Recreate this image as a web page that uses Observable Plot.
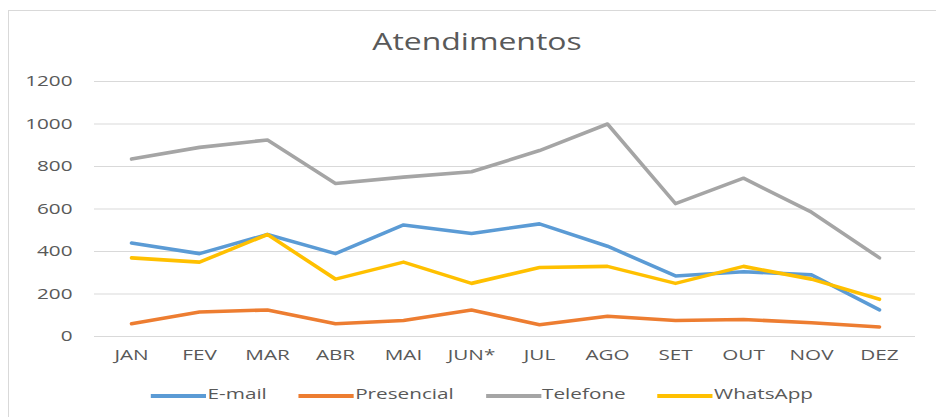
<!DOCTYPE html>
<html><head><meta charset="utf-8">
<script src="https://cdn.jsdelivr.net/npm/d3@7"></script>
<script src="https://cdn.jsdelivr.net/npm/@observablehq/plot@0.6"></script>
<style>
body{margin:0;background:#fff;}
#wrap{position:relative;width:936px;height:417px;overflow:hidden;font-family:"Open Sans",sans-serif;color:#595959;background:#fff;}
#frame{position:absolute;left:8px;top:10px;width:1000px;height:500px;border-left:1.5px solid #d9d9d9;border-top:1.5px solid #d9d9d9;}
#title{position:absolute;left:9px;width:936px;top:29px;line-height:24px;text-align:center;font-size:24px;transform:scaleX(1.33);transform-origin:468px 0;white-space:nowrap;}
#chart{position:absolute;left:0;top:60px;}
#legend{position:absolute;left:14px;width:936px;top:383px;height:20px;display:flex;justify-content:center;align-items:center;transform:scaleX(1.38);transform-origin:468px 0;font-size:15px;line-height:20px;}
.item{display:flex;align-items:center;margin:0 11.5px;}
.sw{width:40px;height:4px;margin-right:1px;margin-top:6px;}
</style></head>
<body>
<div id="wrap">
  <div id="frame"></div>
  <div id="title">Atendimentos</div>
  <div id="chart"></div>
  <div id="legend"></div>
</div>
<script>
const months = ["JAN","FEV","MAR","ABR","MAI","JUN*","JUL","AGO","SET","OUT","NOV","DEZ"];
const email      = [440,390,480,390,525,485,530,425,285,305,290,125];
const presencial = [60,115,125,60,75,125,55,95,75,80,65,45];
const telefone   = [835,890,925,720,750,775,875,1000,625,745,585,370];
const whatsapp   = [370,350,480,270,350,250,325,330,250,330,270,175];
const seriesNames = ["E-mail","Presencial","Telefone","WhatsApp"];
const seriesColors = ["#5B9BD5","#ED7D31","#A5A5A5","#FFC000"];
const yTicks = [0,200,400,600,800,1000,1200];

const seriesValues = [email, presencial, telefone, whatsapp];
const data = [];
seriesNames.forEach((s, i) => months.forEach((m, j) => data.push({series: s, month: m, value: seriesValues[i][j]})));

const chart = Plot.plot({
  width: 936,
  height: 310,
  marginTop: 21,
  marginBottom: 34,
  marginLeft: 94,
  marginRight: 21,
  style: {fontFamily: "Open Sans, sans-serif", fontSize: "15px", color: "#595959", background: "transparent"},
  x: {type: "point", domain: months, padding: 0.5, label: null},
  y: {domain: [0, 1200], label: null},
  color: {domain: seriesNames, range: seriesColors},
  marks: [
    Plot.gridY(yTicks, {stroke: "#d9d9d9", strokeOpacity: 1, strokeWidth: 1.2}),
    Plot.axisY({ticks: yTicks, tickFormat: d => String(d), tickSize: 0, tickPadding: 22, fill: "#595959", label: null}),
    Plot.axisX({tickSize: 0, tickPadding: 13, fill: "#595959", label: null}),
    Plot.lineY(data, {x: "month", y: "value", z: "series", stroke: "series", strokeWidth: 3.6, strokeLinejoin: "round", strokeLinecap: "round"})
  ]
});
// horizontal stretch of the label glyphs, as in the reference
chart.querySelectorAll("g[aria-label$='axis tick label'] text").forEach(t => {
  const tr = t.getAttribute("transform") || "";
  t.setAttribute("transform", tr + " scale(1.38,1)");
});
document.getElementById("chart").appendChild(chart);

const legend = document.getElementById("legend");
seriesNames.forEach((s, i) => {
  const it = document.createElement("div");
  it.className = "item";
  const sw = document.createElement("div");
  sw.className = "sw";
  sw.style.background = seriesColors[i];
  const tx = document.createElement("span");
  tx.textContent = s;
  it.appendChild(sw); it.appendChild(tx);
  legend.appendChild(it);
});
</script>
</body></html>
